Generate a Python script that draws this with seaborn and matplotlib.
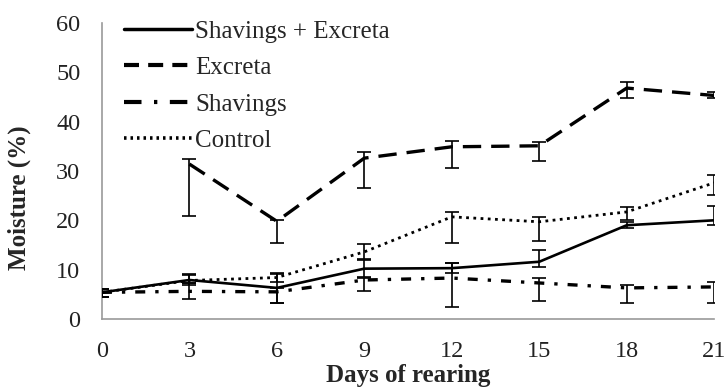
import numpy as np
import pandas as pd
import matplotlib
matplotlib.use("Agg")
import matplotlib.pyplot as plt
import seaborn as sns

# Litter moisture over the rearing period
days = [0, 3, 6, 9, 12, 15, 18, 21]
series_names = ["Shavings + Excreta", "Excreta", "Shavings", "Control"]

mix_vals = [5.4, 7.9, 6.3, 10.2, 10.3, 11.6, 19.0, 20.0]
mix_lo = [0.9, 0.6, 3.1, 1.6, 1.0, 1.1, 0.6, 0.9]
mix_hi = [0.6, 1.2, 3.0, 1.8, 1.0, 2.4, 0.6, 3.0]

excreta_vals = [np.nan, 31.4, 19.8, 32.6, 34.9, 35.1, 46.8, 45.3]
excreta_lo = [np.nan, 10.6, 4.4, 6.1, 4.3, 3.1, 2.0, 0.5]
excreta_hi = [np.nan, 1.0, 0.2, 1.3, 1.2, 0.8, 1.2, 0.7]

shav_vals = [5.4, 5.6, 5.5, 7.9, 8.3, 7.3, 6.3, 6.5]
shav_lo = [0.9, 1.5, 2.3, 2.2, 5.9, 3.7, 3.1, 3.3]
shav_hi = [0.6, 1.7, 0.8, 0.5, 3.0, 1.0, 0.6, 1.0]

ctrl_vals = [5.4, 7.8, 8.4, 13.6, 20.7, 19.7, 21.7, 27.6]
ctrl_lo = [0.9, 1.0, 0.9, 1.5, 5.3, 3.9, 1.6, 2.5]
ctrl_hi = [0.6, 1.2, 0.8, 1.6, 1.0, 1.0, 1.0, 1.6]

x_ticks = [0, 3, 6, 9, 12, 15, 18, 21]
y_ticks = [0, 10, 20, 30, 40, 50, 60]

sns.set_style("white")
plt.rcParams["font.family"] = ["Liberation Serif", "DejaVu Serif"]

values = [mix_vals, excreta_vals, shav_vals, ctrl_vals]
lows = [mix_lo, excreta_lo, shav_lo, ctrl_lo]
highs = [mix_hi, excreta_hi, shav_hi, ctrl_hi]

rows = []
for name, vals in zip(series_names, values):
    for d, v in zip(days, vals):
        if not np.isnan(v):
            rows.append({"day": d, "moisture": v, "series": name})
df = pd.DataFrame(rows)

# dash patterns are in units of the line width
dash_map = {
    "Shavings + Excreta": "",
    "Excreta": (5.5, 3),
    "Shavings": (3, 3, 1, 3),
    "Control": (1, 1.6),
}
legend_dashes = {
    "Excreta": [3.6, 2.2],
    "Shavings": [4.2, 3.0, 0.8, 3.0],
    "Control": [0.7, 1.1],
}
width_map = {"Shavings + Excreta": 1.9, "Excreta": 2.4, "Shavings": 2.4, "Control": 2.0}

fig = plt.figure(figsize=(7.28, 3.89), dpi=100)
ax = fig.add_axes([0.140, 0.180, 0.841, 0.761])

sns.lineplot(data=df, x="day", y="moisture", hue="series", style="series",
             hue_order=series_names, style_order=series_names,
             palette=["black"] * 4, dashes=dash_map, ax=ax, legend=True,
             estimator=None)
for line, name in zip(ax.lines[:4], series_names):
    line.set_linewidth(width_map[name])

# error bars
for name, vals, lo, hi in zip(series_names, values, lows, highs):
    d = np.array(days, dtype=float)
    v = np.array(vals, dtype=float)
    m = ~np.isnan(v)
    ax.errorbar(d[m], v[m], yerr=[np.array(lo)[m], np.array(hi)[m]],
                fmt="none", ecolor="black", elinewidth=1.2, capsize=5,
                capthick=1.2, zorder=3)

ax.set_xlim(0, 21)
ax.set_ylim(0, 60)
ax.set_xticks(x_ticks)
ax.set_yticks(y_ticks)
ax.tick_params(axis="both", labelsize=17.5, length=4.5, width=1, color="#9a9a9a",
               labelcolor="#222222", direction="out")
ax.tick_params(axis="y", pad=11)
ax.tick_params(axis="x", pad=11)
for side in ["top", "right"]:
    ax.spines[side].set_visible(False)
for side in ["left", "bottom"]:
    ax.spines[side].set_color("#9a9a9a")
    ax.spines[side].set_linewidth(1.2)

ax.set_xlabel("Days of rearing", fontsize=18, fontweight="bold")
ax.xaxis.label.set_va("center")
ax.xaxis.set_label_coords(0.5, -0.19)
ax.set_ylabel("Moisture (%)", fontsize=18, fontweight="bold")
ax.yaxis.label.set_va("center")
ax.yaxis.set_label_coords(-0.135, 0.41)

handles, labels = ax.get_legend_handles_labels()
leg = ax.legend(handles[:4], labels[:4], loc="upper left",
                bbox_to_anchor=(0.02, 1.043), frameon=False, fontsize=18,
                handlelength=2.7, handletextpad=0.15, labelspacing=0.56,
                borderaxespad=0)
for h, name in zip(leg.get_lines(), series_names):
    h.set_linewidth(width_map[name] + 0.6)
    if name in legend_dashes:
        h.set_dashes(legend_dashes[name])

fig.savefig("out.png", dpi=100)
